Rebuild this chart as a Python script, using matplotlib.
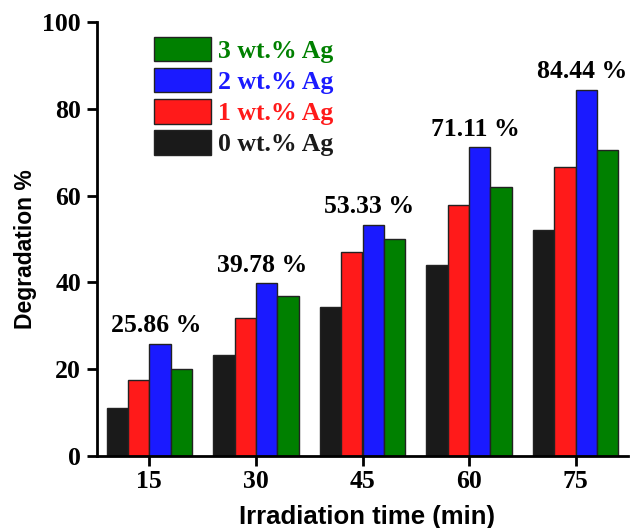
import matplotlib
matplotlib.use("Agg")
import matplotlib.pyplot as plt
import numpy as np

times = ["15", "30", "45", "60", "75"]
series_labels = ["0 wt.% Ag", "1 wt.% Ag", "2 wt.% Ag", "3 wt.% Ag"]
ag0 = [11.0, 23.3, 34.3, 43.9, 52.1]
ag1 = [17.4, 31.7, 47.0, 57.8, 66.7]
ag2 = [25.86, 39.78, 53.33, 71.11, 84.44]
ag3 = [20.0, 36.8, 50.0, 62.0, 70.5]
annot = ["25.86 %", "39.78 %", "53.33 %", "71.11 %", "84.44 %"]
colors = ["#1a1a1a", "#ff1a1a", "#1a1aff", "#008000"]

serif = "Liberation Serif"
sans = "Liberation Sans"
fs = 18.5

fig = plt.figure(figsize=(6.3, 5.28), dpi=100)
ax = fig.add_axes([97/630, 1-456/528, 531/630, 434/528])

x = np.arange(len(times))
w = 0.2
data = [ag0, ag1, ag2, ag3]
bars = []
for k, (vals, c, lab) in enumerate(zip(data, colors, series_labels)):
    b = ax.bar(x + (k - 1.5) * w, vals, width=w, color=c, edgecolor="#222222",
               linewidth=1.0, label=lab, zorder=2)
    bars.append(b)

for i, (v, t) in enumerate(zip(ag2, annot)):
    ax.annotate(t, xy=(x[i] + 0.063, v), xytext=(0, 8.3), textcoords="offset points",
                ha="center", va="baseline", fontfamily=serif, fontweight="bold",
                fontsize=fs)

ax.set_xlim(-0.49, 4.49)
ax.set_ylim(0, 100)
ax.set_xticks(x)
ax.set_xticklabels(times)
ax.set_yticks([0, 20, 40, 60, 80, 100])
for lbl in ax.get_xticklabels() + ax.get_yticklabels():
    lbl.set_fontfamily(serif)
    lbl.set_fontweight("bold")
    lbl.set_fontsize(fs)

ax.spines["top"].set_visible(False)
ax.spines["right"].set_visible(False)
ax.spines["left"].set_linewidth(2)
ax.spines["bottom"].set_linewidth(2)
ax.tick_params(axis="y", direction="out", length=7.5, width=2, pad=4)
ax.tick_params(axis="x", direction="out", length=7, width=2, pad=3)

ax.set_xlabel("Irradiation time (min)", fontfamily=sans, fontweight="bold",
              fontsize=18.5)
ax.xaxis.set_label_coords(0.509, -0.112)
ax.set_ylabel("Degradation %", fontfamily=sans, fontweight="bold",
              fontsize=16.5)
ax.yaxis.set_label_coords(-0.113, 0.477)

handles = [bars[3], bars[2], bars[1], bars[0]]
labels = [series_labels[3], series_labels[2], series_labels[1], series_labels[0]]
leg = ax.legend(handles, labels, loc="upper left", bbox_to_anchor=(0.107, 0.966),
                frameon=False, borderpad=0, borderaxespad=0,
                handlelength=2.22, handleheight=1.09, labelspacing=0.2,
                handletextpad=0.27,
                prop={"family": serif, "weight": "bold", "size": fs})
for txt, c in zip(leg.get_texts(), [colors[3], colors[2], colors[1], colors[0]]):
    txt.set_color(c)

fig.savefig("out.png", dpi=100, facecolor="white")
